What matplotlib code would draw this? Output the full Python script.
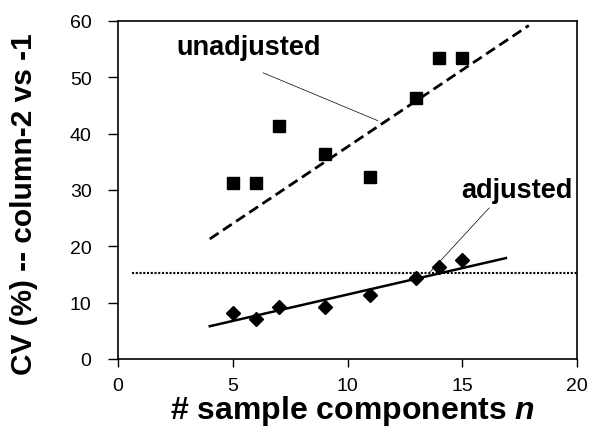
import matplotlib
matplotlib.use("Agg")
import matplotlib.pyplot as plt
import numpy as np

plt.rcParams['font.family'] = ['Liberation Sans', 'DejaVu Sans']
plt.rcParams['mathtext.fontset'] = 'custom'
plt.rcParams['mathtext.it'] = 'Liberation Sans:italic:bold'
plt.rcParams['mathtext.rm'] = 'Liberation Sans:bold'

# data
n_unadj = [5, 6, 7, 9, 11, 13, 14, 15]
cv_unadj = [31.2, 31.2, 41.4, 36.4, 32.3, 46.4, 53.4, 53.4]
n_adj = [5, 6, 7, 9, 11, 13, 14, 15]
cv_adj = [8.1, 7.0, 9.2, 9.2, 11.4, 14.4, 16.4, 17.6]
fit_unadj_x = [4, 17.9]
fit_unadj_y = [21.3, 59.2]
fit_adj_x = [4, 16.9]
fit_adj_y = [5.8, 17.9]
thresh_x = [0.6, 20]
thresh_y = [15.2, 15.2]
xticks = [0, 5, 10, 15, 20]
yticks = [0, 10, 20, 30, 40, 50, 60]

fig = plt.figure(figsize=(5.90, 4.31), dpi=100)
ax = fig.add_axes([0.2, 0.165, 0.778, 0.784])

ax.plot(fit_unadj_x, fit_unadj_y, color='black', lw=2.0, ls=(0, (3.8, 1.9)))
ax.plot(fit_adj_x, fit_adj_y, color='black', lw=1.8)
ax.plot(thresh_x, thresh_y, color='black', lw=1.5, ls=(0, (1, 0.8)))
ax.plot(n_unadj, cv_unadj, ls='none', marker='s', ms=8, color='black')
ax.plot(n_adj, cv_adj, ls='none', marker='D', ms=7.5, color='black')

# leader lines
ax.plot([6.32, 11.32], [50.8, 42.3], color='black', lw=0.5)
ax.plot([16.17, 13.57], [26.8, 15.3], color='black', lw=0.5)
ax.text(2.55, 55.4, 'unadjusted', fontsize=19.5, fontweight='bold', ha='left', va='center')
ax.text(14.95, 30.0, 'adjusted', fontsize=19.5, fontweight='bold', ha='left', va='center')

ax.set_xlim(0, 20)
ax.set_ylim(0, 60)
ax.set_xticks(xticks)
ax.set_yticks(yticks)
ax.tick_params(axis='y', direction='out', length=7, width=1, labelsize=14, pad=12)
ax.tick_params(axis='x', direction='out', length=6, width=1, labelsize=14, pad=7)
for s in ax.spines.values():
    s.set_linewidth(1.2)

ax.set_xlabel('# sample components $n$', fontsize=23, fontweight='bold')
ax.xaxis.set_label_coords(0.51, -0.1)
ax.set_ylabel('CV (%) -- column-2 vs -1', fontsize=21.5, fontweight='bold')
ax.yaxis.set_label_coords(-0.174, 0.46)

fig.savefig('out.png', dpi=100)
